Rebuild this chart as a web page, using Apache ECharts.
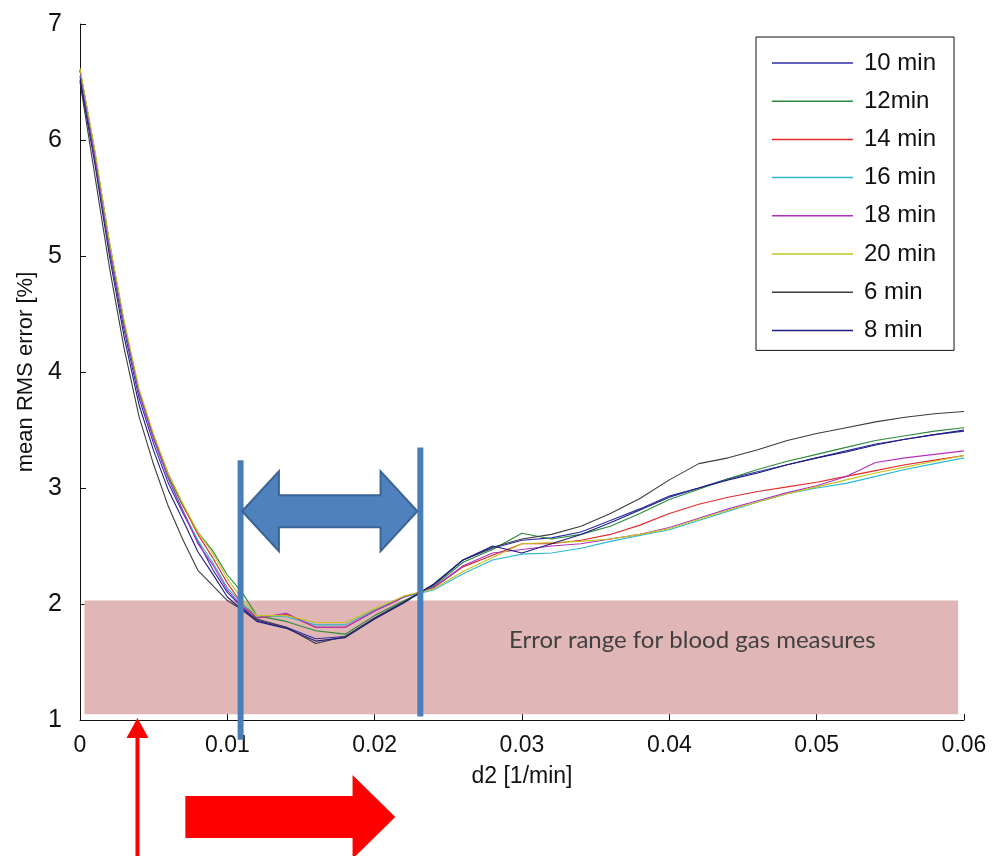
<!DOCTYPE html>
<html>
<head>
<meta charset="utf-8">
<script src="https://cdn.jsdelivr.net/npm/echarts@6/dist/echarts.min.js"></script>
<style>
html,body{margin:0;padding:0;background:#fff;}
#chart{width:995px;height:856px;}
</style>
</head>
<body>
<div id="chart"></div>
<script>
// d2 [1/min] sample positions
const xs = [0, 0.001, 0.002, 0.003, 0.004, 0.005, 0.006, 0.007, 0.008, 0.009, 0.010, 0.011, 0.012,
  0.014, 0.016, 0.018, 0.020, 0.022, 0.024, 0.026, 0.028, 0.030,
  0.032, 0.034, 0.036, 0.038, 0.040, 0.042, 0.044, 0.046, 0.048, 0.050, 0.052, 0.054, 0.056, 0.058, 0.060];

const seriesNames = ['10 min', '12min', '14 min', '16 min', '18 min', '20 min', '6 min', '8 min'];

const min10 = [6.55,5.85,5.05,4.36,3.78,3.38,3.04,2.78,2.54,2.30,2.10,1.97,1.86, 1.80,1.70,1.72,1.88,2.02,2.16,2.38,2.48,2.55, 2.57,2.62,2.72,2.82,2.93,3.00,3.08,3.14,3.20,3.26,3.32,3.38,3.42,3.46,3.49];
const min12 = [6.60,5.90,5.12,4.42,3.84,3.44,3.10,2.84,2.62,2.46,2.25,2.10,1.90, 1.85,1.77,1.74,1.90,2.03,2.15,2.36,2.47,2.61, 2.56,2.60,2.67,2.78,2.90,2.99,3.08,3.16,3.23,3.29,3.35,3.41,3.45,3.49,3.52];
const min14 = [6.60,5.90,5.10,4.42,3.84,3.45,3.12,2.85,2.60,2.40,2.18,2.00,1.88, 1.91,1.80,1.80,1.94,2.06,2.14,2.32,2.42,2.52, 2.52,2.55,2.60,2.68,2.78,2.86,2.92,2.97,3.01,3.05,3.10,3.15,3.20,3.24,3.28];
const min16 = [6.60,5.88,5.08,4.40,3.82,3.42,3.08,2.80,2.55,2.36,2.14,2.00,1.90, 1.89,1.82,1.82,1.95,2.06,2.12,2.26,2.38,2.43, 2.44,2.48,2.54,2.59,2.64,2.72,2.80,2.88,2.95,3.00,3.04,3.10,3.16,3.21,3.26];
const min18 = [6.60,5.88,5.08,4.40,3.82,3.42,3.08,2.80,2.52,2.34,2.12,1.98,1.88, 1.92,1.80,1.80,1.94,2.06,2.14,2.33,2.44,2.47, 2.50,2.52,2.56,2.60,2.66,2.74,2.82,2.89,2.96,3.02,3.10,3.22,3.26,3.29,3.32];
const min20 = [6.62,5.92,5.12,4.44,3.86,3.46,3.12,2.86,2.62,2.44,2.22,2.04,1.90, 1.90,1.84,1.84,1.96,2.07,2.13,2.28,2.40,2.52, 2.53,2.54,2.56,2.60,2.65,2.73,2.81,2.88,2.95,3.01,3.07,3.13,3.18,3.23,3.28];
const min6  = [6.50,5.70,4.90,4.20,3.62,3.20,2.84,2.55,2.29,2.16,2.03,1.95,1.87, 1.80,1.66,1.72,1.88,2.02,2.17,2.38,2.49,2.56, 2.60,2.67,2.78,2.91,3.07,3.21,3.26,3.33,3.41,3.47,3.52,3.57,3.61,3.64,3.66];
const min8  = [6.52,5.80,5.00,4.30,3.72,3.32,2.98,2.72,2.45,2.26,2.06,1.95,1.85, 1.79,1.68,1.71,1.87,2.01,2.17,2.38,2.50,2.44, 2.52,2.60,2.70,2.81,2.92,3.00,3.07,3.13,3.20,3.26,3.31,3.37,3.42,3.46,3.50];

const seriesValues = [min10, min12, min14, min16, min18, min20, min6, min8];
const seriesColors = ['#2c2ca8', '#2a8a3c', '#e02a2a', '#2ab8d0', '#b030c0', '#c4c41e', '#3c3c3c', '#1c1c80'];

const xTicks = [0, 0.01, 0.02, 0.03, 0.04, 0.05, 0.06];
const yTicks = [1, 2, 3, 4, 5, 6, 7];

// annotation positions in data units
const errorRange = {x0: 0.0003, x1: 0.0596, y0: 1.05, y1: 2.03, text: 'Error range for blood gas measures'};
const optLeft = 0.0109, optRight = 0.0231;

const chart = echarts.init(document.getElementById('chart'));
const FONT = '"Liberation Sans", Arial, sans-serif';

const series = [{
  type: 'line', name: '_range', data: [], z: 1, silent: true,
  markArea: {
    silent: true,
    itemStyle: {color: '#e0b7b6'},
    label: {show: true, position: 'inside', offset: [171, -17], color: '#404040',
      fontFamily: 'Lato, "Open Sans", sans-serif', fontSize: 24, formatter: errorRange.text},
    data: [[{coord: [errorRange.x0, errorRange.y1]}, {coord: [errorRange.x1, errorRange.y0]}]]
  }
}];
seriesNames.forEach((n, i) => {
  series.push({
    type: 'line', name: n, z: 3,
    data: xs.map((x, j) => [x, seriesValues[i][j]]),
    showSymbol: false, symbol: 'none',
    lineStyle: {width: 1.1, color: seriesColors[i]},
    itemStyle: {color: seriesColors[i]},
    animation: false
  });
});

chart.setOption({
  animation: false,
  grid: {left: 80, top: 24, width: 884, height: 696, containLabel: false},
  legend: {
    data: seriesNames, orient: 'vertical', left: 756, top: 37,
    icon: 'rect', itemWidth: 81, itemHeight: 1.5, itemGap: 14.2,
    padding: [14, 18, 8, 16],
    borderColor: '#111', borderWidth: 1, backgroundColor: '#fff',
    textStyle: {fontFamily: FONT, fontSize: 24, color: '#111', lineHeight: 24, padding: [0, 0, 0, 6]}
  },
  xAxis: {
    type: 'value', min: 0, max: 0.06, interval: 0.01,
    name: 'd2 [1/min]', nameLocation: 'middle', nameGap: 45,
    nameTextStyle: {fontFamily: FONT, fontSize: 23, color: '#111'},
    axisLine: {show: true, lineStyle: {color: '#111', width: 1}},
    axisTick: {show: true, inside: true, length: 6, lineStyle: {color: '#111'}},
    axisLabel: {fontFamily: FONT, fontSize: 23, color: '#111', margin: 14,
      formatter: v => { const t = xTicks.find(a => Math.abs(a - v) < 1e-9); return t === 0 ? '0' : String(+v.toFixed(2)); }},
    splitLine: {show: false}
  },
  yAxis: {
    type: 'value', min: 1, max: 7, interval: 1,
    name: 'mean RMS error [%]', nameLocation: 'middle', nameGap: 40,
    nameTextStyle: {fontFamily: FONT, fontSize: 22, color: '#111'},
    axisLine: {show: true, lineStyle: {color: '#111', width: 1}},
    axisTick: {show: true, inside: true, length: 6, lineStyle: {color: '#111'}},
    axisLabel: {fontFamily: FONT, fontSize: 25, color: '#111', margin: 18,
      formatter: v => String(yTicks.find(a => a === v) ?? v)},
    splitLine: {show: false}
  },
  series: series
});

function px(x, y) { return chart.convertToPixel({gridIndex: 0}, [x, y]); }

// blue optimum-range markers
const L1 = px(optLeft, 3.24), L2 = px(optLeft, 0.83);
const R1 = px(optRight, 3.35), R2 = px(optRight, 1.03);
const yc = px(0, 2.80)[1];
const headH = 40, shaftH = 16;
const tipL = px(0.0110, 2.8)[0], tipR = px(0.0229, 2.8)[0];
const baseL = px(0.0135, 2.8)[0], baseR = px(0.0204, 2.8)[0];
const dbl = [[tipL, yc], [baseL, yc - headH], [baseL, yc - shaftH], [baseR, yc - shaftH], [baseR, yc - headH],
  [tipR, yc], [baseR, yc + headH], [baseR, yc + shaftH], [baseL, yc + shaftH], [baseL, yc + headH]];

// red arrows below the axis
const rx = px(0.0039, 1)[0];
const axisY = px(0, 1)[1];
const bigX0 = px(0.00715, 1)[0], bigHead = px(0.0185, 1)[0], bigTip = px(0.0214, 1)[0];
const bigC = axisY + 97;
const bigArrow = [[bigX0, bigC - 21], [bigHead, bigC - 21], [bigHead, bigC - 42], [bigTip, bigC],
  [bigHead, bigC + 42], [bigHead, bigC + 21], [bigX0, bigC + 21]];
const thin = [[rx - 2, 860], [rx - 2, axisY + 18], [rx - 11, axisY + 18], [rx, axisY - 2],
  [rx + 11, axisY + 18], [rx + 2, axisY + 18], [rx + 2, 860]];

chart.setOption({
  graphic: [
    {type: 'line', z: 100, shape: {x1: L1[0], y1: L1[1], x2: L2[0], y2: L2[1]}, style: {stroke: '#4a7ebb', lineWidth: 6}},
    {type: 'line', z: 100, shape: {x1: R1[0], y1: R1[1], x2: R2[0], y2: R2[1]}, style: {stroke: '#4a7ebb', lineWidth: 6}},
    {type: 'polygon', z: 101, shape: {points: dbl}, style: {fill: '#4f81bd', stroke: '#3a6496', lineWidth: 2}},
    {type: 'polygon', z: 100, shape: {points: thin}, style: {fill: '#ff0000'}},
    {type: 'polygon', z: 100, shape: {points: bigArrow}, style: {fill: '#ff0000'}}
  ]
});
</script>
</body>
</html>
